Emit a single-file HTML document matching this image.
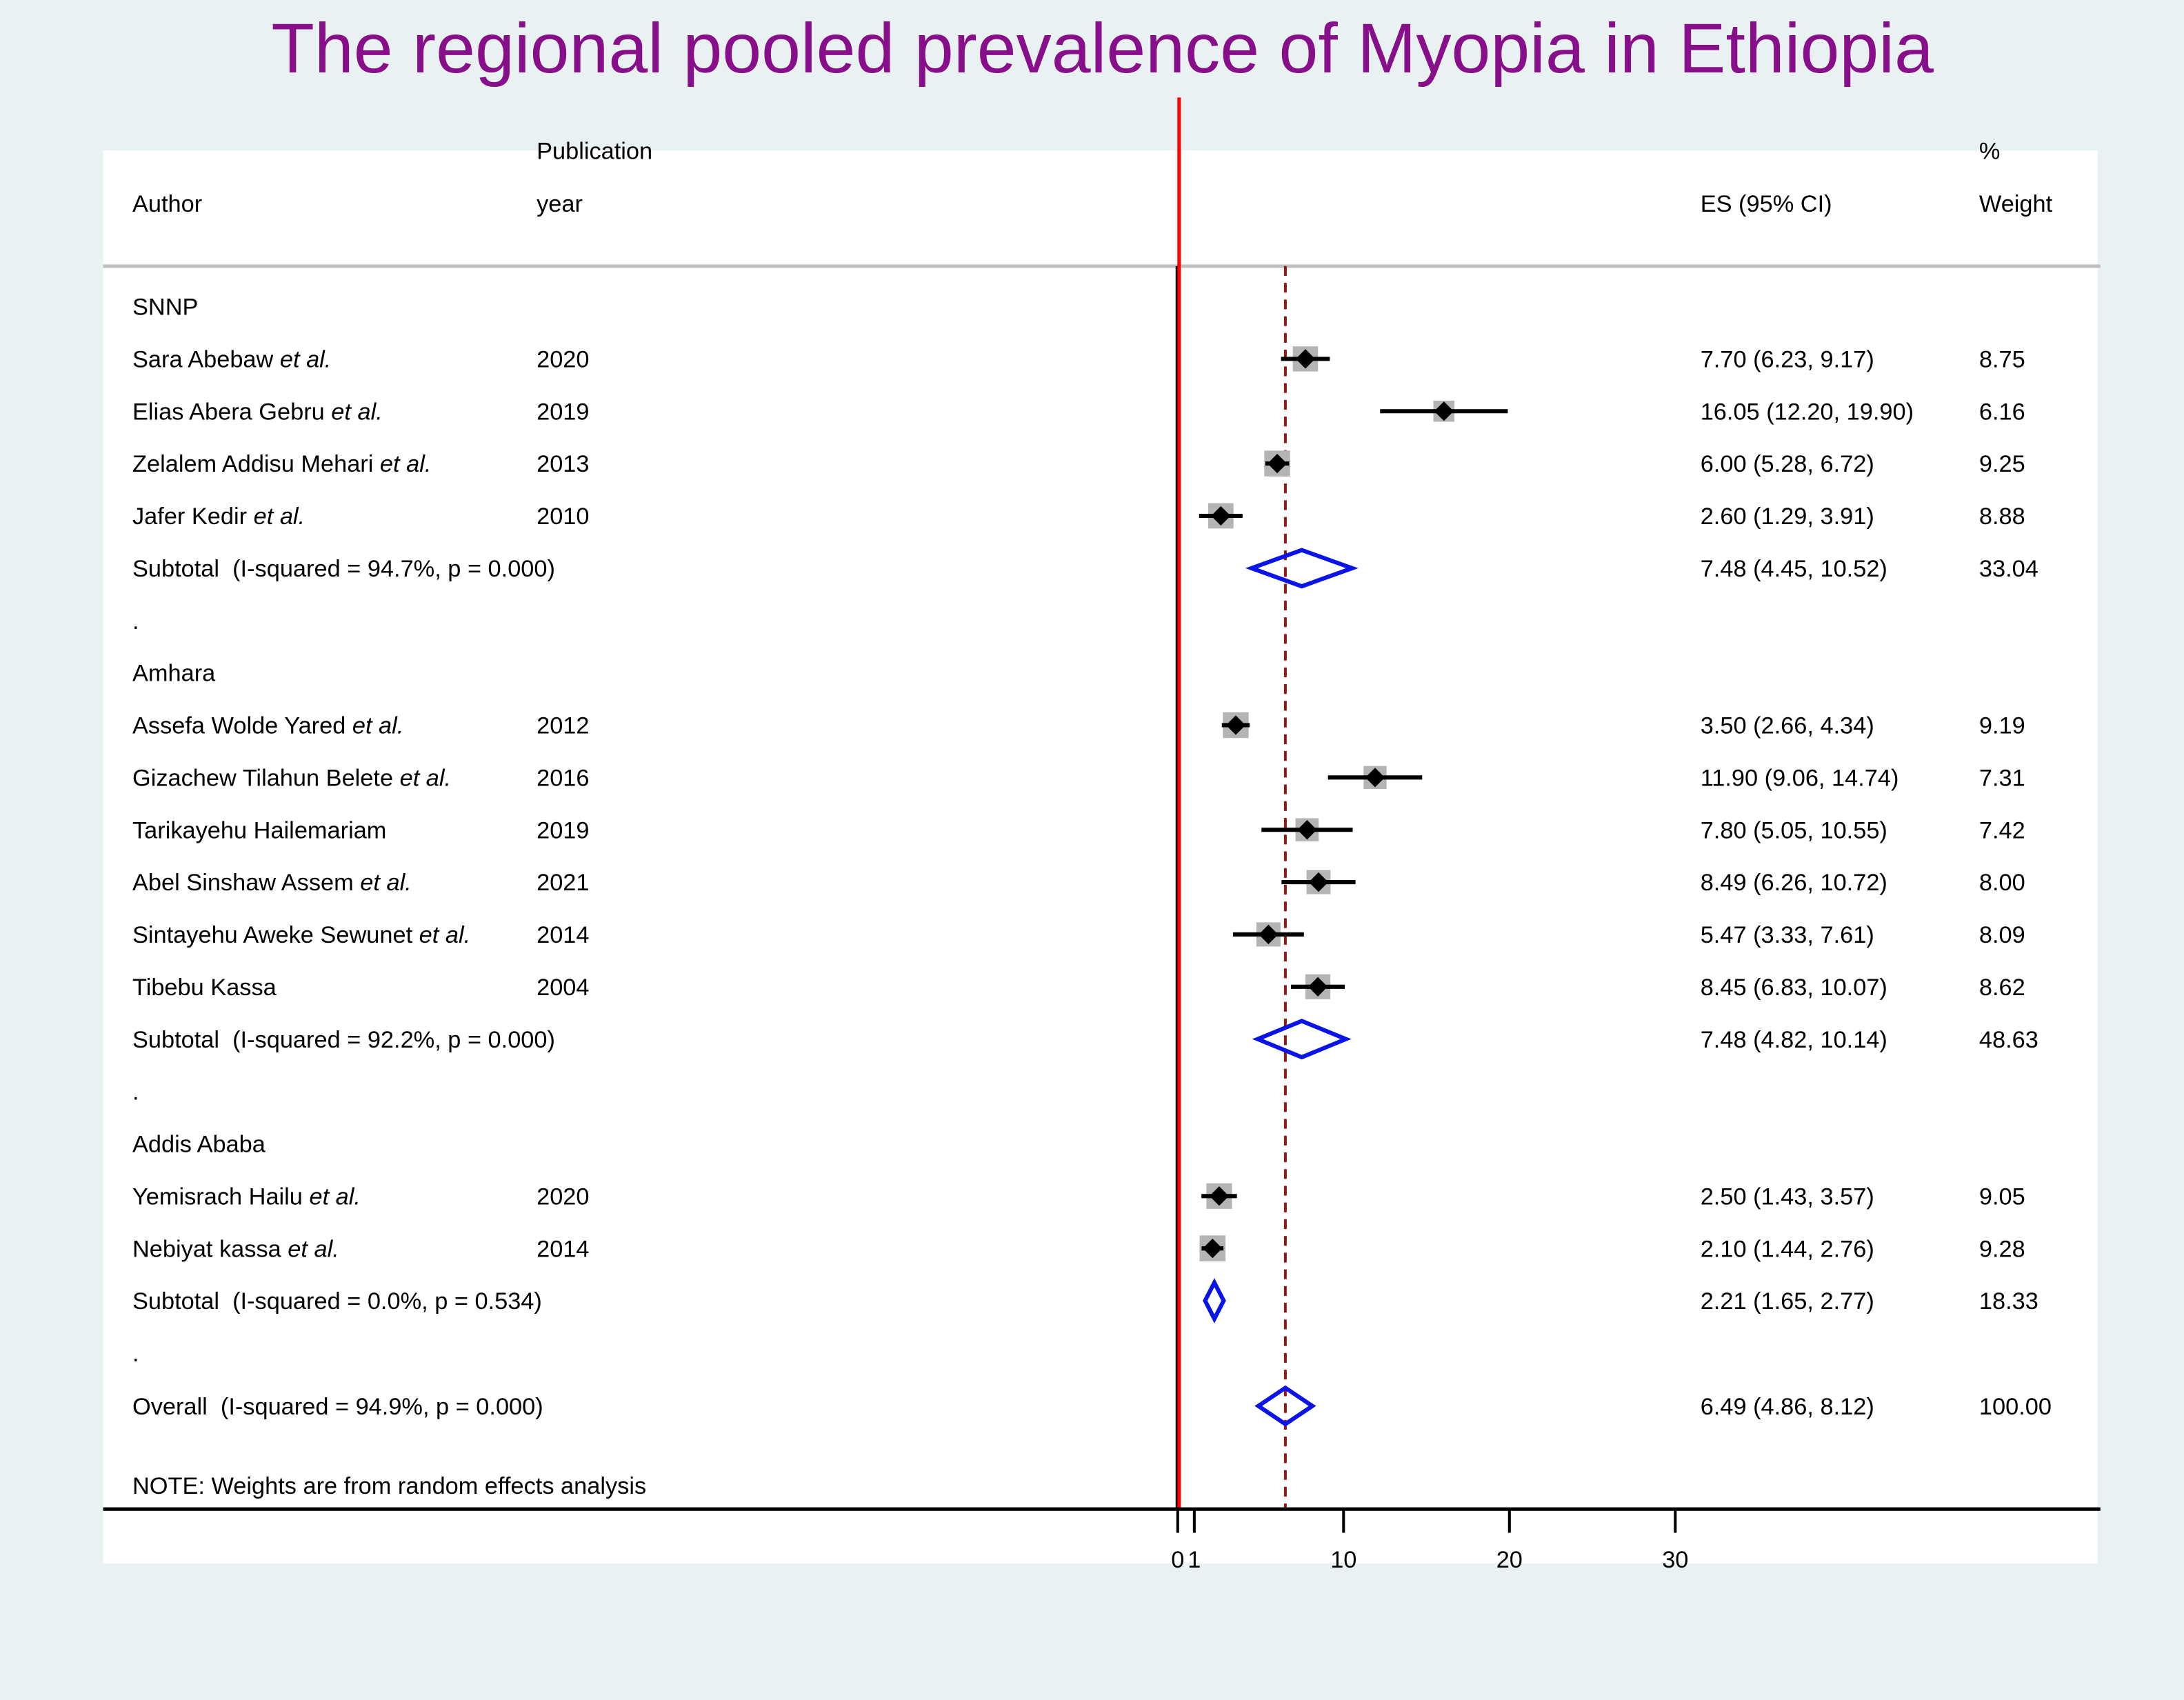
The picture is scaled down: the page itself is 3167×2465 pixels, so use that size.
<!DOCTYPE html>
<html><head><meta charset="utf-8">
<style>
html,body{margin:0;padding:0;background:#e9f1f2;}
svg{display:block;}
text{font-family:"Liberation Sans",Arial,sans-serif;white-space:pre;}
</style></head>
<body>
<svg id="chart" width="3167" height="2465" viewBox="0 0 1567 1220" preserveAspectRatio="none" xmlns="http://www.w3.org/2000/svg" xml:space="preserve">
<rect x="0" y="0" width="1567" height="1220" fill="#e9f1f2"/>
<rect x="74" y="108" width="1431" height="1014" fill="#ffffff"/>
<text x="791" y="52" text-anchor="middle" font-size="50.6" fill="#87108a">The regional pooled prevalence of Myopia in Ethiopia</text>
<g font-size="17" fill="#000">
<text x="385" y="114">Publication</text>
<text x="95" y="152">Author</text>
<text x="385" y="152">year</text>
<text x="1220" y="152">ES (95% CI)</text>
<text x="1420" y="114">%</text>
<text x="1420" y="152">Weight</text>
</g>
<line x1="74" y1="191" x2="1507" y2="191" stroke="#c0c0c0" stroke-width="2.5"/>
<g id="marks"></g>
</svg>
<script>
const rowLabels = ["SNNP","Sara Abebaw","Elias Abera Gebru","Zelalem Addisu Mehari","Jafer Kedir","Subtotal  (I-squared = 94.7%, p = 0.000)",".","Amhara","Assefa Wolde Yared","Gizachew Tilahun Belete","Tarikayehu Hailemariam","Abel Sinshaw Assem","Sintayehu Aweke Sewunet","Tibebu Kassa","Subtotal  (I-squared = 92.2%, p = 0.000)",".","Addis Ababa","Yemisrach Hailu","Nebiyat kassa","Subtotal  (I-squared = 0.0%, p = 0.534)",".","Overall  (I-squared = 94.9%, p = 0.000)"];
const rowTypes = ["g","s","s","s","s","t","d","g","s","s","s","s","s","s","t","d","g","s","s","t","d","o"];
const etAl = [0,1,1,1,1,0,0,0,1,1,0,1,1,0,0,0,0,1,1,0,0,0];
const years = ["","2020","2019","2013","2010","","","","2012","2016","2019","2021","2014","2004","","","","2020","2014","","",""];
const es = [null,7.70,16.05,6.00,2.60,7.48,null,null,3.50,11.90,7.80,8.49,5.47,8.45,7.48,null,null,2.50,2.10,2.21,null,6.49];
const lo = [null,6.23,12.20,5.28,1.29,4.45,null,null,2.66,9.06,5.05,6.26,3.33,6.83,4.82,null,null,1.43,1.44,1.65,null,4.86];
const hi = [null,9.17,19.90,6.72,3.91,10.52,null,null,4.34,14.74,10.55,10.72,7.61,10.07,10.14,null,null,3.57,2.76,2.77,null,8.12];
const weights = [null,8.75,6.16,9.25,8.88,33.04,null,null,9.19,7.31,7.42,8.00,8.09,8.62,48.63,null,null,9.05,9.28,18.33,null,100.00];
const xTicks = [0,1,10,20,30];
const overallES = 6.49;

const NS="http://www.w3.org/2000/svg";
const g=document.getElementById('marks');
const xs=v=>845+v*11.9;
const ys=i=>i<21?220+i*37.55:1009;
function el(t,a,p){const e=document.createElementNS(NS,t);for(const k in a)e.setAttribute(k,a[k]);(p||g).appendChild(e);return e;}
const fmt=v=>v.toFixed(2);
const FS=17;

let e;
e=el('line',{x1:xs(overallES),y1:191,x2:xs(overallES),y2:1082,stroke:'#8b1a1a','stroke-width':2,'stroke-dasharray':'7,5'});


e=el('line',{x1:xs(0),y1:191,x2:xs(0),y2:1083,stroke:'#000','stroke-width':3});


e=el('line',{x1:xs(0)+1,y1:70,x2:xs(0)+1,y2:1083,stroke:'#ff0000','stroke-width':2.5});


e=el('line',{x1:74,y1:1083,x2:1507,y2:1083,stroke:'#000','stroke-width':2.5});


xTicks.forEach(t=>{
  let l=el('line',{x1:xs(t),y1:1083,x2:xs(t),y2:1100,stroke:'#000','stroke-width':2});
  
  
  let tx=el('text',{x:xs(t),y:1125,'text-anchor':'middle','font-size':FS});
  tx.textContent=t;
  
  
});

rowLabels.forEach((lab,i)=>{
  const y=ys(i), typ=rowTypes[i];
  const t=el('text',{x:95,y:y+6,'font-size':FS});
  t.textContent=lab;
  if(etAl[i]){const s=el('tspan',{'font-style':'italic'},t);s.textContent=' et al.';}
  
  
  if(years[i]){const yt=el('text',{x:385,y:y+6,'font-size':FS});yt.textContent=years[i];
    
    }
  if(es[i]!==null){
    const et=el('text',{x:1220,y:y+6,'font-size':FS});et.textContent=fmt(es[i])+' ('+fmt(lo[i])+', '+fmt(hi[i])+')';
    
    
    const wt=el('text',{x:1420,y:y+6,'font-size':FS});wt.textContent=fmt(weights[i]);
    
    
    if(typ==='s'){
      const side=6.1*Math.sqrt(weights[i]);
      const b=el('rect',{x:xs(es[i])-side/2,y:y-side/2,width:side,height:side,fill:'#b4b4b4'});
      
      
      const ci=el('line',{x1:xs(lo[i]),y1:y,x2:xs(hi[i]),y2:y,stroke:'#000','stroke-width':3});
      
      
      const c=xs(es[i]);
      const d=el('polygon',{points:`${c-7},${y} ${c},${y-7} ${c+7},${y} ${c},${y+7}`,fill:'#000'});
      
      
    } else {
      const c=xs(es[i]);
      const d=el('polygon',{points:`${xs(lo[i])},${y} ${c},${y-13} ${xs(hi[i])},${y} ${c},${y+13}`,fill:'none',stroke:'#0a14e6','stroke-width':3});
      
      
    }
  }
});
const note=el('text',{x:95,y:1072,'font-size':FS});
note.textContent='NOTE: Weights are from random effects analysis';


</script>
</body></html>
